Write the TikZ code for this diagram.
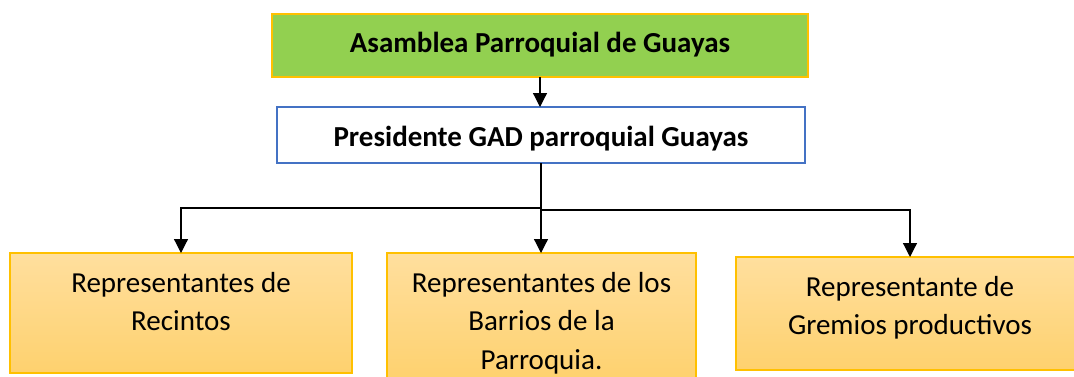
\documentclass[tikz,border=0pt]{standalone}
\usepackage{fontspec}
\setmainfont{Carlito}
\usetikzlibrary{arrows.meta}
\definecolor{gfill}{HTML}{92D050}
\definecolor{gold}{HTML}{FFC000}
\definecolor{bblue}{HTML}{4472C4}
\definecolor{otop}{RGB}{255,223,158}
\definecolor{obot}{RGB}{254,209,110}
\tikzset{
  topbox/.style={draw=gold, line width=1.2pt, fill=gfill, inner sep=0pt, outer sep=0pt},
  presbox/.style={draw=bblue, line width=2pt, fill=white, inner sep=0pt, outer sep=0pt},
  repbox/.style={draw=gold, line width=1.2pt, top color=otop, bottom color=obot, inner sep=0pt, outer sep=0pt},
  conn/.style={line width=1.2pt, black},
  arr/.style={conn, -{Triangle[length=14pt,width=14pt]}},
  bigtxt/.style={font=\fontsize{29}{38.5}\selectfont}
}
\newcommand{\boxtext}[4]{\parbox[c][#1pt][t]{#2pt}{\centering\rule{0pt}{#3pt}#4}}
\begin{document}
\begin{tikzpicture}[x=1pt,y=-1pt]
\clip (0,0) rectangle (1074,376);
\fill[white] (0,0) rectangle (1074,376);

\node[topbox, bigtxt] (asam) at (540,45.5)
  {\boxtext{63}{536}{38.5}{\bfseries Asamblea Parroquial de Guayas}};
\node[presbox, bigtxt] (pres) at (541,135)
  {\boxtext{56}{528}{39.5}{\bfseries Presidente GAD parroquial Guayas}};

\node[repbox, bigtxt] (left) at (181,313)
  {\boxtext{120}{342}{39}{Representantes de\\Recintos}};
\node[repbox, bigtxt] (mid) at (541.5,317)
  {\boxtext{128}{309}{39}{Representantes de los\\Barrios de la\\Parroquia.}};
\node[repbox, bigtxt] (right) at (910,313.5)
  {\boxtext{113}{348}{39}{Representante de\\Gremios productivos}};

\coordinate (jl) at (541,208);
\coordinate (jr) at (541,210);

\draw[arr] (asam.south) -- (asam.south |- pres.north);
\draw[conn] (pres.south) -- (jl);
\draw[arr] (jl) -| (left.north);
\draw[arr] (jl) -- (jl |- mid.north);
\draw[arr] (jr) -| (right.north);
\end{tikzpicture}
\end{document}
